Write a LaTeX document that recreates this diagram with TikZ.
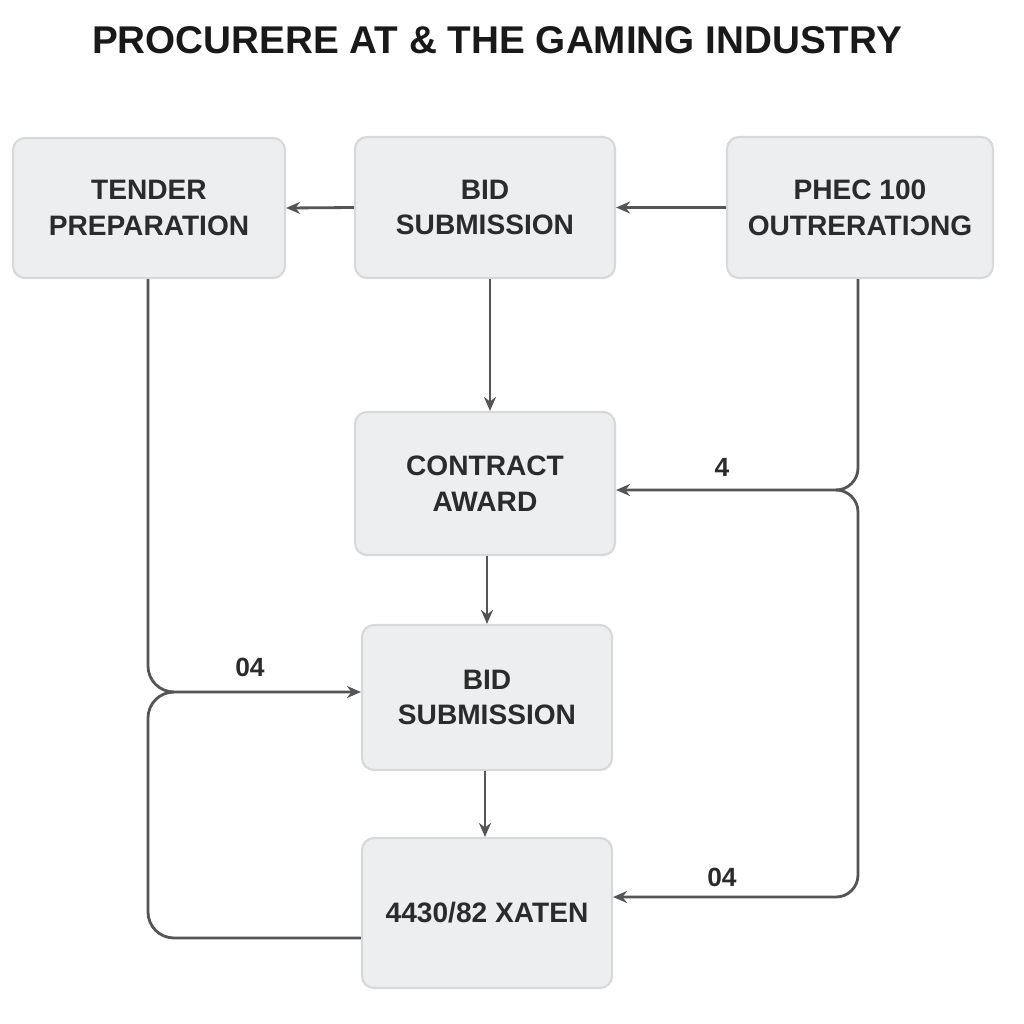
\documentclass[tikz,border=0pt]{standalone}
\usepackage{fontspec}
\setmainfont{Liberation Sans}
\usetikzlibrary{arrows.meta}
\definecolor{boxfill}{HTML}{EDEEEF}
\definecolor{boxedge}{HTML}{D6D8DA}
\definecolor{linegray}{HTML}{555555}
\definecolor{txt}{HTML}{2B2B2B}
\tikzset{
  stepbox/.style={draw=boxedge, line width=0.6pt, fill=boxfill, rounded corners=0.12cm,
    align=center, text=txt, font=\bfseries\fontsize{8}{10.2}\selectfont, inner sep=0pt},
  conn/.style={draw=linegray, line width=0.8pt, -{Stealth[length=0.14cm,width=0.12cm]}},
  plainconn/.style={draw=linegray, line width=0.8pt},
  lbl/.style={text=txt, font=\bfseries\fontsize{7.5}{9}\selectfont, inner sep=0pt}
}
\begin{document}
\begin{tikzpicture}
\useasboundingbox[fill=white] (0,0) rectangle (10.24,-10.24);
\node[text=black!90, font=\bfseries\fontsize{11}{13}\selectfont] (title) at (4.97,-0.40) {PROCURERE AT \& THE GAMING INDUSTRY};

\node[stepbox, minimum width=2.72cm, minimum height=1.40cm] (tender) at (1.49,-2.08) {TENDER\\PREPARATION};
\node[stepbox, minimum width=2.60cm, minimum height=1.41cm] (bid1) at (4.85,-2.075) {BID\\SUBMISSION};
\node[stepbox, minimum width=2.66cm, minimum height=1.41cm] (phec) at (8.60,-2.075) {PHEC 100\\OUTRERATI\reflectbox{C}NG};
\node[stepbox, minimum width=2.60cm, minimum height=1.43cm] (contract) at (4.85,-4.835) {CONTRACT\\AWARD};
\node[stepbox, minimum width=2.50cm, minimum height=1.45cm] (bid2) at (4.87,-6.975) {BID\\SUBMISSION};
\node[stepbox, minimum width=2.50cm, minimum height=1.50cm] (xaten) at (4.87,-9.13) {4430/82 XATEN};

% horizontal top arrows
\draw[conn] (bid1.west) -- (tender.east);
\draw[conn] (phec.west) -- (bid1.east);
% vertical arrows
\draw[conn] (bid1.south -| 4.90,0) -- (contract.north -| 4.90,0);
\draw[conn] (contract.south -| 4.87,0) -- (bid2.north -| 4.87,0);
\draw[conn] (bid2.south -| 4.85,0) -- (xaten.north -| 4.85,0);

% left loop
\coordinate (lj) at (1.73,-6.92);
\draw[conn, rounded corners=0.26cm] (tender.south -| 1.48,0) |- (bid2.west |- lj);
\draw[plainconn, rounded corners=0.26cm] (lj) -- (1.48,-6.92) |- (xaten.west |- 0,-9.38);
\node[lbl] (l04a) at (2.50,-6.67) {04};

% right loop
\coordinate (rj) at (8.38,-4.90);
\draw[conn, rounded corners=0.22cm] (phec.south -| 8.58,0) |- (contract.east |- rj);
\draw[conn, rounded corners=0.22cm] (rj) -- (8.58,-4.90) |- (xaten.east |- 0,-8.97);
\node[lbl] (l4) at (7.22,-4.67) {4};
\node[lbl] (l04b) at (7.22,-8.77) {04};
\end{tikzpicture}
\end{document}
